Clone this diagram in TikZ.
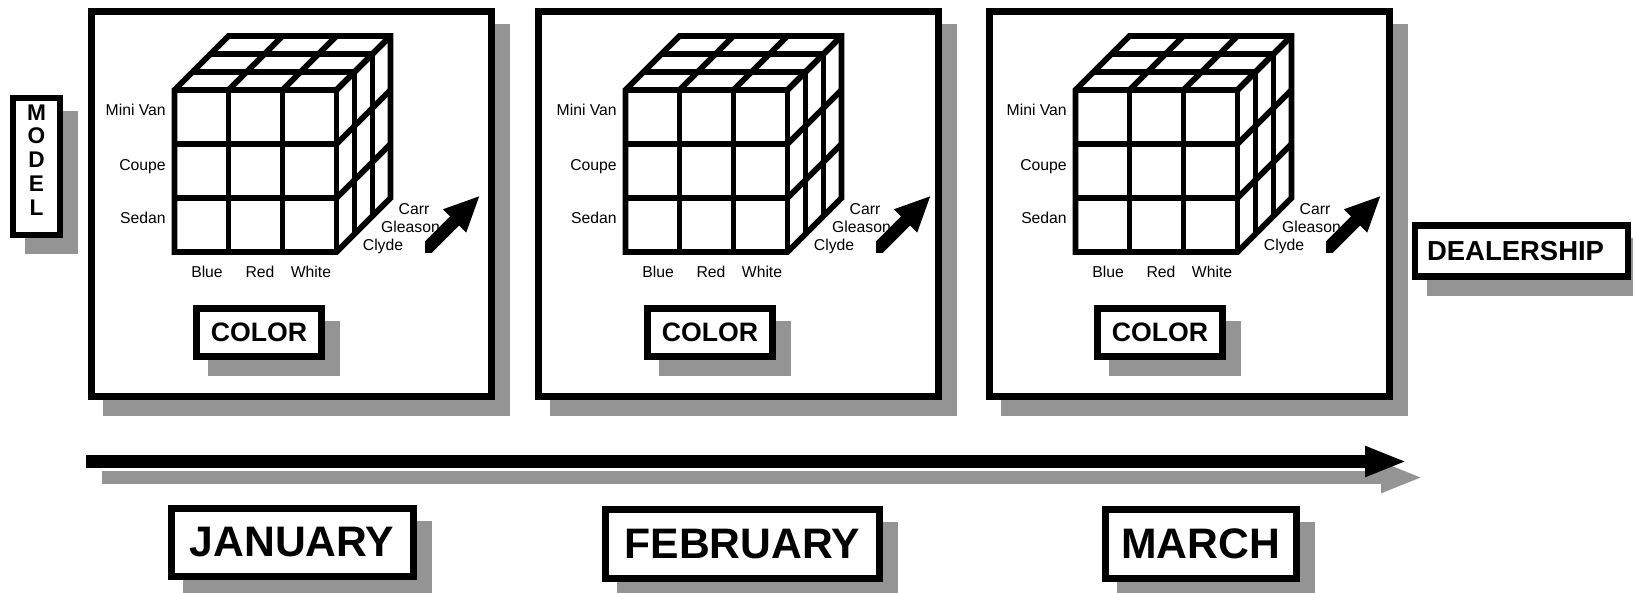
\documentclass[tikz,border=0pt]{standalone}
\usepackage{fontspec}
\setmainfont{Liberation Sans}
\usetikzlibrary{arrows.meta,shadows}
\definecolor{shadowgray}{HTML}{949494}
\tikzset{
  every node/.style={text=black,inner sep=0pt},
  shadowed/.style={copy shadow={shadow xshift=11.25pt,shadow yshift=-12pt,fill=shadowgray,draw=shadowgray}},
  panel/.style={draw,line width=5.25pt,fill=white,shadowed,minimum width=300pt,minimum height=288.75pt},
  tagbox/.style={draw,line width=5.25pt,fill=white,shadowed,font=\fontsize{20}{24}\selectfont\bfseries},
  monthbox/.style={tagbox,font=\fontsize{32}{38}\selectfont\bfseries,minimum height=51.5pt},
  cubeline/.style={line width=4.3pt},
  cubeedge/.style={cubeline,line join=miter},
  axislbl/.style={font=\fontsize{11.8}{14}\selectfont},
  diagarrow/.style={line width=9.75pt,-{Triangle[length=27pt,width=22.5pt]}},
  timeline/.style={line width=9.75pt,-{Triangle[length=31.5pt,width=21pt]}},
}

\begin{document}
\begin{tikzpicture}[x=0.75pt,y=-0.75pt]
\useasboundingbox (0,0) rectangle (1633,592);

% --- one panel per month: frame, cube, axis labels
\foreach \i/\px/\cx in {1/0/0,2/447/451,3/898/901}{
  \node[panel] (pnl\i) at (291.5+\px,204) {};
  \begin{scope}[shift={(\cx,0)}]
    \draw[cubeedge] (174.5,252) -- (174.5,90) -- (228.5,36) -- (390.5,36) -- (390.5,198) -- (336.5,252) -- cycle;
    \foreach \k in {1,2,3}{
      \draw[cubeline] (174.5+54*\k,90) -- ++(0,162);
      \draw[cubeline] (174.5+54*\k,90) -- ++(54,-54);
    }
    \foreach \k in {0,1,2}{
      \draw[cubeline] (174.5,90+54*\k) -- ++(162,0);
      \draw[cubeline] (174.5+18*\k,90-18*\k) -- ++(162,0);
      \draw[cubeline] (336.5+18*\k,90-18*\k) -- ++(0,162);
      \draw[cubeline] (336.5,90+54*\k) -- ++(54,-54);
    }
    \node[axislbl,anchor=base east] (mv\i) at (166,115) {Mini Van};
    \node[axislbl,anchor=base east] (cp\i) at (166,170) {Coupe};
    \node[axislbl,anchor=base east] (sd\i) at (166,223) {Sedan};
    \node[axislbl,anchor=base] (bl\i) at (207,277) {Blue};
    \node[axislbl,anchor=base] (rd\i) at (260,277) {Red};
    \node[axislbl,anchor=base] (wt\i) at (311,277) {White};
    \node[axislbl,anchor=base] (cr\i) at (414,214) {Carr};
    \node[axislbl,anchor=base] (gl\i) at (410.5,232) {Gleason};
    \node[axislbl,anchor=base] (cl\i) at (383,250) {Clyde};
    \node[tagbox,minimum width=93.75pt,minimum height=36pt] (col\i) at (259,332.5) {COLOR};
    % dealership direction
    \coordinate (dtail\i) at (419,256.5);
    \coordinate (dtip\i) at (480,195.5);
    \begin{scope}
      \clip (425,150) rectangle (500,252);
      \draw[diagarrow] (dtail\i) -- (dtip\i);
    \end{scope}
  \end{scope}
}

% --- axis boxes
\node[tagbox,font=\fontsize{17}{17.8}\selectfont\bfseries,align=center,line width=4.5pt,minimum width=35.25pt,minimum height=102.75pt] (model) at (36.5,166.5) {M\\O\\D\\E\\L\rule[-10pt]{0pt}{10pt}};
\node[tagbox,font=\fontsize{20.6}{24}\selectfont\bfseries,line width=5pt,align=left,text width=141.75pt,inner xsep=9pt,minimum height=38.6pt] (dealer) at (1521.5,251) {DEALERSHIP};

% --- time axis
\coordinate (tstart) at (86,461.5);
\coordinate (tend) at (1407,461.5);
\draw[timeline,draw=shadowgray] ([shift={(16,16)}]tstart) -- ([shift={(16,16)}]tend);
\draw[timeline] (tstart) -- (tend);

\node[monthbox,minimum width=181.5pt] (jan) at (292,542.5) {JANUARY};
\node[monthbox,minimum width=205.9pt] (feb) at (742.3,544) {FEBRUARY};
\node[monthbox,minimum width=143.25pt] (mar) at (1200.5,544) {MARCH};

\end{tikzpicture}
\end{document}
